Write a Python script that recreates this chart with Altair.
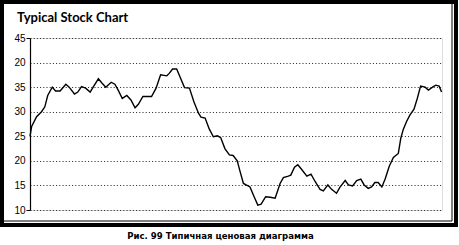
import altair as alt
import pandas as pd

# Reading of the price line (x in % of the period, price)
days = [0, 0.4, 1.6, 2.8, 3.6, 4.3, 5.4, 6.2, 7.3, 8.7, 9.5, 10.8, 11.6, 12.5, 13.5,
        14.6, 15.4, 16.6, 17.5, 18.4, 19.7, 20.6, 21.4, 22.4, 23.5, 24.5, 25.5, 26.3,
        27.4, 29.5, 30.6, 31.7, 33.2, 33.8, 34.6, 35.6, 36.6, 37.5, 38.7, 39.8, 40.9,
        41.5, 42.5, 43.5, 44.5, 45.5, 46.3, 47.3, 48.4, 49.3, 50.3, 51.0, 51.8, 53.4,
        54.4, 55.3, 56.1, 57.2, 58.3, 59.5, 60.7, 61.5, 62.7, 63.3, 64.2, 65.0, 65.9,
        67.2, 68.2, 69.2, 70.4, 71.2, 72.3, 73.2, 74.4, 75.2, 76.5, 77.3, 78.3, 79.3,
        80.3, 81.1, 82.1, 82.9, 83.7, 84.5, 85.4, 86.2, 87.2, 88.2, 89.4, 90.0, 90.6,
        91.4, 92.2, 93.2, 94.0, 94.8, 95.9, 96.7, 97.7, 98.5, 99.3, 99.9]
prices = [25.0, 27.0, 29.0, 30.0, 31.0, 33.3, 35.0, 34.2, 34.2, 35.6, 35.0, 33.6, 34.0,
          35.1, 34.8, 34.0, 35.1, 36.7, 35.8, 35.0, 36.0, 35.6, 34.4, 32.7, 33.3, 32.4,
          30.8, 31.5, 33.1, 33.1, 34.8, 37.5, 37.3, 37.8, 38.7, 38.7, 36.7, 34.9, 34.8,
          32.0, 29.7, 28.9, 28.7, 26.5, 24.9, 25.1, 24.7, 22.5, 21.2, 21.1, 20.0, 17.8,
          15.4, 14.7, 12.7, 11.0, 11.2, 12.7, 12.6, 12.4, 15.4, 16.6, 16.9, 17.1, 18.7,
          19.2, 18.3, 16.9, 17.3, 15.8, 14.2, 13.9, 15.1, 14.2, 13.4, 14.6, 16.0, 15.1,
          14.9, 16.0, 16.3, 15.1, 14.4, 14.7, 15.6, 15.6, 14.7, 16.3, 18.9, 20.7, 21.5,
          24.6, 26.4, 28.0, 29.3, 30.5, 32.7, 35.2, 35.0, 34.4, 35.0, 35.4, 35.2, 34.0]

tick_values = [10, 15, 20, 25, 30, 35, 40, 45]
tick_labels = ["10", "15", "20", "25", "30", "35", "20", "45"]

title_text = "Typical Stock Chart"
caption_text = "Рис. 99 Типичная ценовая диаграмма"

df = pd.DataFrame({"day": days, "price": prices})

label_expr = "[" + ",".join("'%s'" % t for t in tick_labels) + "][round((datum.value-10)/5)]"

W, H = 412, 172
one = alt.Data(values=[{"k": 1}])

line = alt.Chart(df).mark_line(color="black", strokeWidth=1.4).encode(
    x=alt.X("day:Q", scale=alt.Scale(domain=[0, 100], nice=False), axis=None),
    y=alt.Y("price:Q", scale=alt.Scale(domain=[10, 45], nice=False),
            axis=alt.Axis(values=tick_values, labelExpr=label_expr, title=None,
                          labelFont="Liberation Sans", labelFontSize=10,
                          labelColor="black", labelPadding=1, tickSize=4,
                          tickColor=alt.condition("datum.value == 10 || datum.value == 45",
                                                  alt.value("black"), alt.value("transparent")),
                          domainColor="black", domainWidth=1.2,
                          grid=True, gridColor="#222", gridDash=[1, 2.2], gridWidth=1)),
)

frame_thick = alt.Chart(one).mark_rect(fill=None, stroke="black", strokeWidth=4).encode(
    x=alt.value(-28), x2=alt.value(426), y=alt.value(-36), y2=alt.value(187))
frame_thin = alt.Chart(one).mark_rect(fill=None, stroke="black", strokeWidth=1).encode(
    x=alt.value(-28), x2=alt.value(422), y=alt.value(-36), y2=alt.value(183))

title = alt.Chart(one).mark_text(text=title_text, font="Lato", fontWeight="bold",
                                 fontSize=13, align="left", baseline="alphabetic",
                                 color="black").encode(x=alt.value(-13), y=alt.value(-16))
caption = alt.Chart(one).mark_text(text=caption_text,
                                   font="DejaVu Sans Condensed",
                                   fontWeight="bold", fontSize=9.5, align="center",
                                   baseline="alphabetic", color="black").encode(
    x=alt.value(190.5), y=alt.value(201))

chart = alt.layer(frame_thin, frame_thick, line, title, caption).properties(
    width=W, height=H,
    autosize=alt.AutoSizeParams(type="none"),
    padding={"left": 30, "top": 38, "right": 17, "bottom": 35},
).configure_view(stroke="#333", strokeWidth=1.2).configure(background="white")

chart.save("out.html", embed_options={"renderer": "svg", "actions": False})
